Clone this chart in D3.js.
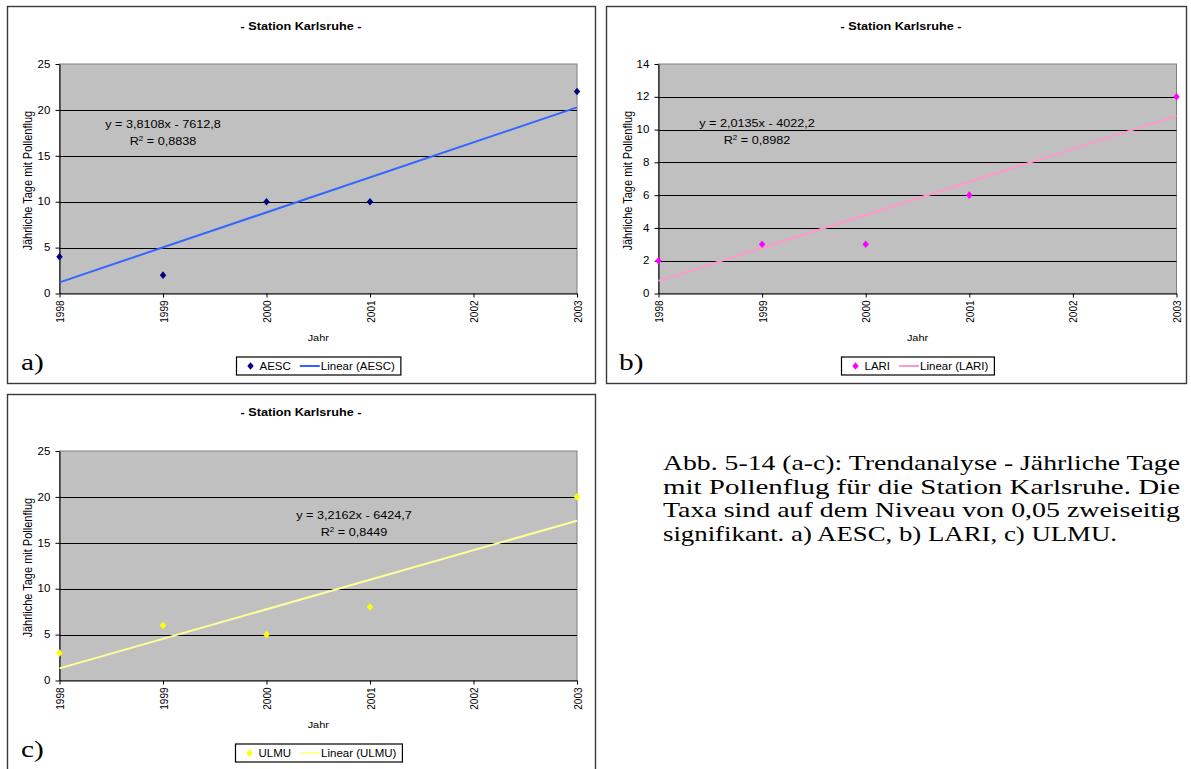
<!DOCTYPE html>
<html>
<head>
<meta charset="utf-8">
<script src="https://cdn.jsdelivr.net/npm/d3@7"></script>
<style>
  html, body { margin: 0; padding: 0; background: #fff; }
  svg { display: block; }
</style>
</head>
<body>
<svg id="chart" width="1191" height="769"></svg>
<script>
// ---------------- data ----------------
const years = [1998, 1999, 2000, 2001, 2003];
const aescValues = [4, 2, 10, 10, 22];
const lariValues = [2, 3, 3, 6, 12];
const ulmuValues = [3, 6, 5, 8, 20];
const xTickYears = [1998, 1999, 2000, 2001, 2002, 2003];
const yTicksAesc = [0, 5, 10, 15, 20, 25];
const yTicksLari = [0, 2, 4, 6, 8, 10, 12, 14];
const yTicksUlmu = [0, 5, 10, 15, 20, 25];
const seriesNames = ["AESC", "LARI", "ULMU"];
const panelLetters = ["a)", "b)", "c)"];
const chartTitle = "- Station Karlsruhe -";
const xAxisTitle = "Jahr";
const yAxisTitle = "Jährliche Tage mit Pollenflug";
const captionLines = [
  "Abb. 5-14 (a-c): Trendanalyse - Jährliche Tage",
  "mit Pollenflug für die Station Karlsruhe. Die",
  "Taxa sind auf dem Niveau von 0,05 zweiseitig",
  "signifikant. a) AESC, b) LARI, c) ULMU."
];

// ---------------- layout / style ----------------
const SX = 1.15;  // horizontal stretch of the source image
const SANS = "'Liberation Sans', Arial, sans-serif";
const SERIF = "'Liberation Serif', 'Times New Roman', serif";

const panels = [
  { values: aescValues, name: seriesNames[0], letter: panelLetters[0], yTicks: yTicksAesc,
    marker: "#000080", trend: "#3366FF",
    box: [7.5, 6.5, 588, 377], plot: [59.5, 577, 64, 293.5],
    titleX: 301, titleY: 29.5, eq: [163, 127.5], letterPos: [21, 370], ylabX: 28 },
  { values: lariValues, name: seriesNames[1], letter: panelLetters[1], yTicks: yTicksLari,
    marker: "#FF00FF", trend: "#FF99CC",
    box: [606.5, 6.5, 580, 377], plot: [658.5, 1176.5, 64, 293.5],
    titleX: 901, titleY: 29.5, eq: [757, 126.5], letterPos: [619, 370], ylabX: 628 },
  { values: ulmuValues, name: seriesNames[2], letter: panelLetters[2], yTicks: yTicksUlmu,
    marker: "#FFFF00", trend: "#FFFF99",
    box: [7.5, 394.5, 588, 380], plot: [59.5, 577, 451, 680.5],
    titleX: 301, titleY: 416, eq: [354, 518.5], letterPos: [21, 757], ylabX: 28 }
];

const svg = d3.select("#chart");

function sText(parent, x, y, s, size, opts = {}) {
  return parent.append("text")
    .attr("transform", `translate(${x},${y}) scale(${SX},1)` + (opts.rotate ? " rotate(-90)" : ""))
    .attr("font-family", opts.family || SANS)
    .attr("font-size", size)
    .attr("font-weight", opts.weight || "normal")
    .attr("text-anchor", opts.anchor || "start")
    .attr("fill", "#000")
    .text(s);
}

function linreg(xs, ys) {
  const mx = d3.mean(xs), my = d3.mean(ys);
  let sxy = 0, sxx = 0, syy = 0;
  xs.forEach((x, i) => { sxy += (x - mx) * (ys[i] - my); sxx += (x - mx) ** 2; syy += (ys[i] - my) ** 2; });
  const m = sxy / sxx, b = my - m * mx;
  return { m, b, r2: (m * sxy) / syy };
}
const de = v => String(v).replace(".", ",");

panels.forEach(p => {
  const g = svg.append("g");
  // panel frame
  g.append("rect").attr("x", p.box[0]).attr("y", p.box[1]).attr("width", p.box[2]).attr("height", p.box[3])
    .attr("fill", "#fff").attr("stroke", "#3a3a3a").attr("stroke-width", 1.4);

  const [x0, x1, y0, y1] = p.plot;
  const yMax = d3.max(p.yTicks);
  const x = d3.scaleLinear().domain([d3.min(xTickYears), d3.max(xTickYears)]).range([x0, x1]);
  const y = d3.scaleLinear().domain([0, yMax]).range([y1, y0]);

  // plot area
  g.append("rect").attr("x", x0).attr("y", y0).attr("width", x1 - x0).attr("height", y1 - y0)
    .attr("fill", "#C0C0C0").attr("stroke", "#808080").attr("stroke-width", 1);

  // gridlines
  g.selectAll("line.grid").data(p.yTicks.filter(v => v > 0 && v < yMax)).enter()
    .append("line").attr("class", "grid")
    .attr("x1", x0).attr("x2", x1)
    .attr("y1", d => Math.round(y(d)) + 0.5).attr("y2", d => Math.round(y(d)) + 0.5)
    .attr("stroke", "#000").attr("stroke-width", 1);

  // y axis
  const ya = g.append("g").attr("transform", `translate(${x0},0)`)
    .call(d3.axisLeft(y).tickValues(p.yTicks).tickSize(4).tickSizeOuter(0).tickPadding(4).tickFormat(d3.format("d")));
  ya.selectAll("text").attr("font-family", SANS).attr("font-size", 10).attr("fill", "#000")
    .attr("transform", `scale(${SX},1)`);
  ya.selectAll("path, line").attr("stroke", "#000");

  // x axis
  const xa = g.append("g").attr("transform", `translate(0,${y1})`)
    .call(d3.axisBottom(x).tickValues(xTickYears).tickSize(4).tickSizeOuter(0).tickFormat(d3.format("d")));
  xa.selectAll("text").attr("font-family", SANS).attr("font-size", 10).attr("fill", "#000")
    .attr("text-anchor", "end").attr("x", -7).attr("y", 0).attr("dy", "0.35em")
    .attr("transform", `scale(${SX},1) rotate(-90)`);
  xa.selectAll("path, line").attr("stroke", "#000");

  // trendline
  const fit = linreg(years, p.values);
  const xr = x.domain();
  const line = d3.line().x(d => x(d)).y(d => y(fit.m * d + fit.b));
  g.append("path").datum(xr).attr("d", line)
    .attr("fill", "none").attr("stroke", p.trend).attr("stroke-width", 2);

  // markers
  const diamond = "M0,-3.8L3.2,0L0,3.8L-3.2,0Z";
  g.selectAll("path.pt").data(years.map((yr, i) => [yr, p.values[i]])).enter()
    .append("path").attr("class", "pt")
    .attr("transform", d => `translate(${x(d[0])},${y(d[1])})`)
    .attr("d", diamond).attr("fill", p.marker);

  // equation
  const sign = fit.b < 0 ? "-" : "+";
  const eqStr = `y = ${de(fit.m.toFixed(4))}x ${sign} ${de(Math.abs(fit.b).toFixed(1))}`;
  sText(g, p.eq[0], p.eq[1], eqStr, 11, { anchor: "middle" });
  const r2 = sText(g, p.eq[0], p.eq[1] + 17.5, "", 11, { anchor: "middle" });
  r2.append("tspan").text("R");
  r2.append("tspan").attr("font-size", 7).attr("dy", -4).text("2");
  r2.append("tspan").attr("dy", 4).text(" = " + de(fit.r2.toFixed(4)));

  // titles
  sText(g, p.titleX, p.titleY, chartTitle, 11, { anchor: "middle", weight: "bold" });
  const xc = (x0 + x1) / 2;
  sText(g, xc, y1 + 47, xAxisTitle, 9.5, { anchor: "middle" });
  sText(g, p.ylabX + 4, (y0 + y1) / 2 + 2, yAxisTitle, 11, { anchor: "middle", rotate: true });

  // panel letter
  sText(g, p.letterPos[0], p.letterPos[1], p.letter, 23.5, { family: SERIF }).attr("transform",
    `translate(${p.letterPos[0]},${p.letterPos[1]}) scale(1.25,1)`);

  // legend
  const lg = g.append("g");
  const box = lg.append("rect").attr("fill", "#fff").attr("stroke", "#000").attr("stroke-width", 1.2);
  const ly = 0;
  lg.append("path").attr("d", diamond).attr("transform", `translate(14,${ly})`).attr("fill", p.marker);
  const t1 = sText(lg, 23, ly + 3.5, p.name, 10);
  const w1 = t1.node().getComputedTextLength() * SX;
  const lx0 = 23 + w1 + 9, lx1 = lx0 + 20;
  lg.append("line").attr("x1", lx0).attr("x2", lx1).attr("y1", ly).attr("y2", ly)
    .attr("stroke", p.trend).attr("stroke-width", 2);
  const t2 = sText(lg, lx1 + 1, ly + 3.5, `Linear (${p.name})`, 10);
  const w2 = t2.node().getComputedTextLength() * SX;
  const bw = lx1 + 1 + w2 + 6;
  box.attr("x", 0).attr("y", -9).attr("width", bw).attr("height", 18);
  lg.attr("transform", `translate(${Math.round(xc - bw / 2) + 0.5},${Math.round(y1 + 72.5)})`);
});

// caption
const capWidths = [517, 517, 517, 454];
captionLines.forEach((s, i) => {
  svg.append("text")
    .attr("x", 663).attr("y", 470 + i * 23.7)
    .attr("font-family", SERIF).attr("font-size", 21.5).attr("fill", "#000")
    .attr("textLength", capWidths[i]).attr("lengthAdjust", "spacingAndGlyphs")
    .text(s);
});
</script>
</body>
</html>
